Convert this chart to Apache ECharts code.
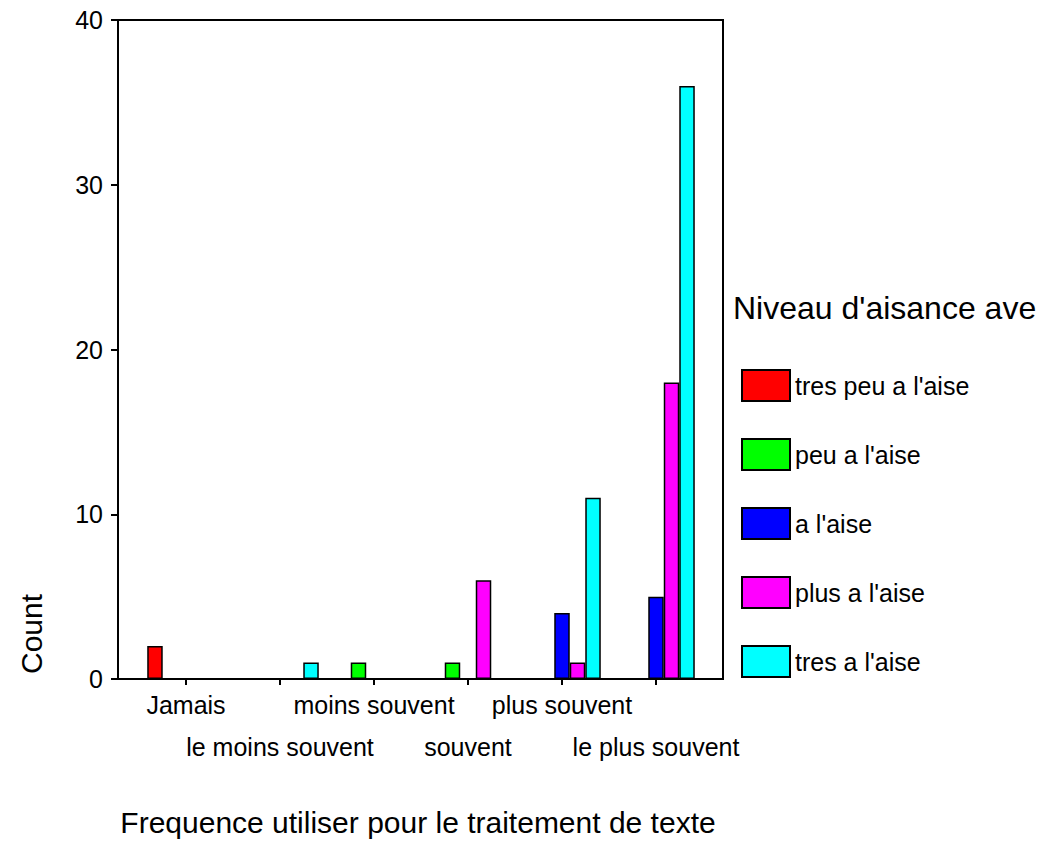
<!DOCTYPE html>
<html>
<head>
<meta charset="utf-8">
<script src="https://cdn.jsdelivr.net/npm/echarts@6/dist/echarts.min.js"></script>
<style>
html,body{margin:0;padding:0;background:#fff;}
#chart{width:1047px;height:846px;}
</style>
</head>
<body>
<div id="chart"></div>
<script>
// ---- data ----
const categories = ['Jamais', 'le moins souvent', 'moins souvent', 'souvent', 'plus souvent', 'le plus souvent'];
const seriesNames = ["tres peu a l'aise", "peu a l'aise", "a l'aise", "plus a l'aise", "tres a l'aise"];
const tresPeuAise = [2, 0, 0, 0, 0, 0];
const peuAise     = [0, 0, 1, 1, 0, 0];
const aAise       = [0, 0, 0, 0, 4, 5];
const plusAise    = [0, 0, 0, 6, 1, 18];
const tresAise    = [0, 1, 0, 0, 11, 36];
const yTicks = [0, 10, 20, 30, 40];
const xTitle = 'Frequence utiliser pour le traitement de texte';
const yTitle = 'Count';
const legendTitle = "Niveau d'aisance ave";

const colors = ['#ff0000', '#00ff00', '#0000ff', '#ff00ff', '#00ffff'];
const values = [tresPeuAise, peuAise, aAise, plusAise, tresAise];
const FONT = 'Liberation Sans, Arial, sans-serif';

const chart = echarts.init(document.getElementById('chart'), null, {renderer: 'svg'});

const option = {
  animation: false,
  backgroundColor: '#fff',
  textStyle: {fontFamily: FONT, color: '#000'},
  grid: [
    {left: 118, right: 324, top: 20, bottom: 167, show: true, borderColor: '#000', borderWidth: 2, backgroundColor: 'transparent'},
    {left: 139, right: 344, top: 20, bottom: 167}
  ],
  xAxis: [
    {gridIndex: 0, type: 'value', show: false, min: 0, max: 1},
    {
      gridIndex: 1, type: 'category', data: categories,
      axisLine: {show: true, lineStyle: {color: '#000', width: 2}},
      axisTick: {show: true, alignWithLabel: true, length: 6, lineStyle: {color: '#000', width: 2}},
      axisLabel: {
        interval: 0, fontSize: 25, fontFamily: FONT, color: '#000', margin: 5, lineHeight: 42,
        formatter: (v, i) => (i % 2 === 1 ? '\n' + v : v)
      },
      name: xTitle, nameLocation: 'middle', nameGap: 128,
      nameTextStyle: {fontSize: 30, fontFamily: FONT, color: '#000', padding: [0, 6, 0, 0]}
    }
  ],
  yAxis: [
    {
      gridIndex: 0, type: 'value', min: yTicks[0], max: yTicks[yTicks.length - 1], interval: 10,
      axisLine: {show: true, lineStyle: {color: '#000', width: 2}},
      axisTick: {show: true, length: 7, lineStyle: {color: '#000', width: 2}},
      axisLabel: {fontSize: 25, fontFamily: FONT, color: '#000', margin: 15},
      splitLine: {show: false}
    },
    {gridIndex: 1, type: 'value', min: 0, max: 40, show: false, splitLine: {show: false}}
  ],
  legend: {
    orient: 'vertical', left: 741, top: 369, padding: 0,
    itemWidth: 48, itemHeight: 31, itemGap: 36,
    icon: 'rect',
    textStyle: {fontSize: 25, fontFamily: FONT, color: '#000'},
    data: seriesNames
  },
  graphic: [
    {type: 'text', left: 733, top: 292, style: {text: legendTitle, fontSize: 32, fontFamily: FONT, fill: '#000'}},
    {type: 'text', x: 31, y: 634, rotation: Math.PI / 2, style: {text: yTitle, fontSize: 30, fontFamily: FONT, fill: '#000', align: 'center', verticalAlign: 'middle'}}
  ],
  series: seriesNames.map((n, i) => ({
    name: n, type: 'bar', xAxisIndex: 1, yAxisIndex: 1,
    data: values[i],
    barGap: '0%', barCategoryGap: '17.5%',
    itemStyle: {color: colors[i], borderColor: '#000', borderWidth: 1.5}
  }))
};
chart.setOption(option);
</script>
</body>
</html>
